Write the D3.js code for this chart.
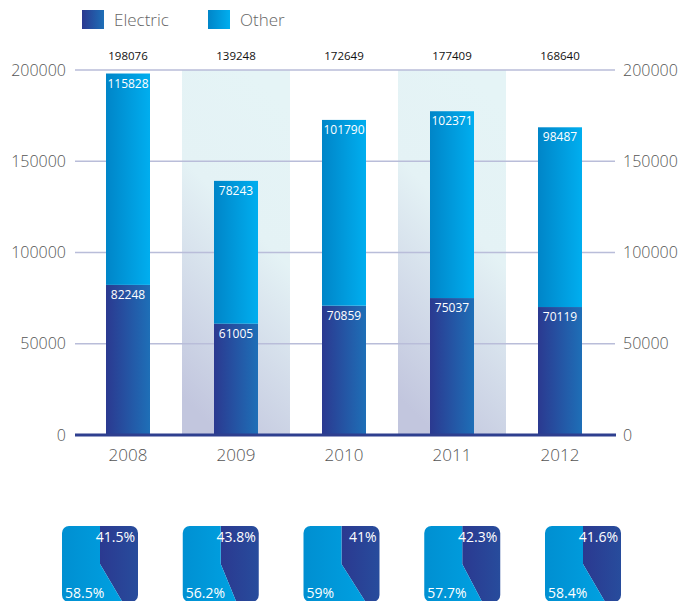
<!DOCTYPE html>
<html>
<head>
<meta charset="utf-8">
<script src="https://cdn.jsdelivr.net/npm/d3@7"></script>
<style>
  body { margin: 0; background: #fff; }
  text { font-family: "Open Sans", "Noto Sans", sans-serif; }
</style>
</head>
<body>
<div id="chart"></div>
<script>
const years = ["2008", "2009", "2010", "2011", "2012"];
const electric = [82248, 61005, 70859, 75037, 70119];
const other = [115828, 78243, 101790, 102371, 98487];
const totals = [198076, 139248, 172649, 177409, 168640];
const electricPct = ["41.5%", "43.8%", "41%", "42.3%", "41.6%"];
const otherPct = ["58.5%", "56.2%", "59%", "57.7%", "58.4%"];
const yTicks = [0, 50000, 100000, 150000, 200000];
const shadedYears = ["2009", "2011"];

const width = 683, height = 601;

let svg = d3.select("#chart").append("svg")
    .attr("width", width)
    .attr("height", height);

let defs = svg.append("defs");

function hGrad(id, c1, c2) {
    let g = defs.append("linearGradient").attr("id", id)
        .attr("x1", "0%").attr("y1", "0%").attr("x2", "100%").attr("y2", "0%");
    g.append("stop").attr("offset", "0%").attr("stop-color", c1);
    g.append("stop").attr("offset", "100%").attr("stop-color", c2);
}
hGrad("gElec", "#2b3990", "#1e6fb7");
hGrad("gOther", "#0085c8", "#00aeef");
hGrad("gElecPie", "#2b3990", "#2361aa");
hGrad("gOtherPie", "#0083c6", "#00a6e6");

let band = defs.append("linearGradient").attr("id", "gBand")
    .attr("x1", "65%").attr("y1", "0%").attr("x2", "35%").attr("y2", "100%");
band.append("stop").attr("offset", "0%").attr("stop-color", "#e5f4f6");
band.append("stop").attr("offset", "40%").attr("stop-color", "#e4f2f5");
band.append("stop").attr("offset", "100%").attr("stop-color", "#c2c6de");

const x = d3.scaleBand().domain(years).range([74, 614]);
const y = d3.scaleLinear().domain([0, 200000]).range([435, 70]);
const barW = 44;

// shaded bands
svg.append("g").selectAll("rect")
    .data(shadedYears)
    .enter().append("rect")
    .attr("x", d => x(d))
    .attr("y", y(200000))
    .attr("width", x.bandwidth())
    .attr("height", y(0) - y(200000))
    .attr("fill", "url(#gBand)");

// grid
svg.append("g").selectAll("line")
    .data(yTicks.filter(d => d > 0))
    .enter().append("line")
    .attr("x1", 75).attr("x2", 615)
    .attr("y1", d => y(d)).attr("y2", d => y(d))
    .style("stroke", "#b9bdd9")
    .style("stroke-width", 1.5);

// axes labels
let leftAxis = d3.axisLeft(y).tickValues(yTicks).tickFormat(d3.format("d")).tickSize(0).tickPadding(9);
let gl = svg.append("g").attr("transform", "translate(75,0)").call(leftAxis);
let rightAxis = d3.axisRight(y).tickValues(yTicks).tickFormat(d3.format("d")).tickSize(0).tickPadding(8);
let gr = svg.append("g").attr("transform", "translate(615,0)").call(rightAxis);
[gl, gr].forEach(g => {
    g.select(".domain").remove();
    g.selectAll("text")
        .style("font-size", "16px")
        .style("font-weight", 300)
        .style("fill", "#555");
});

let xAxis = d3.axisBottom(x).tickSize(0).tickPadding(14);
let gx = svg.append("g").attr("transform", "translate(0,435)").call(xAxis);
gx.select(".domain").remove();
gx.selectAll("text")
    .style("font-size", "17px")
    .style("font-weight", 300)
    .style("fill", "#555");

// bars
const cx = d => x(d) + x.bandwidth() / 2;
let bars = svg.append("g");
bars.selectAll(".elec")
    .data(years)
    .enter().append("rect")
    .attr("class", "elec")
    .attr("x", d => cx(d) - barW / 2)
    .attr("width", barW)
    .attr("y", (d, i) => y(electric[i]))
    .attr("height", (d, i) => y(0) - y(electric[i]))
    .attr("fill", "url(#gElec)");
bars.selectAll(".other")
    .data(years)
    .enter().append("rect")
    .attr("class", "other")
    .attr("x", d => cx(d) - barW / 2)
    .attr("width", barW)
    .attr("y", (d, i) => y(electric[i] + other[i]))
    .attr("height", (d, i) => y(electric[i]) - y(electric[i] + other[i]))
    .attr("fill", "url(#gOther)");

// baseline
svg.append("line")
    .attr("x1", 75).attr("x2", 616)
    .attr("y1", y(0)).attr("y2", y(0))
    .style("stroke", "#2e3f8f")
    .style("stroke-width", 3);

// value labels
let labels = svg.append("g").style("font-size", "12px").attr("text-anchor", "middle");
labels.selectAll(".lo")
    .data(years).enter().append("text")
    .attr("x", d => cx(d))
    .attr("y", (d, i) => y(electric[i] + other[i]) + 14)
    .style("fill", "#fff")
    .text((d, i) => other[i]);
labels.selectAll(".le")
    .data(years).enter().append("text")
    .attr("x", d => cx(d))
    .attr("y", (d, i) => y(electric[i]) + 14)
    .style("fill", "#fff")
    .text((d, i) => electric[i]);
labels.selectAll(".lt")
    .data(years).enter().append("text")
    .attr("x", d => cx(d))
    .attr("y", 60)
    .style("fill", "#111")
    .style("font-size", "11.5px")
    .text((d, i) => totals[i]);

// legend
let legend = svg.append("g");
const legItems = [["Electric", "url(#gElec)", 82], ["Other", "url(#gOther)", 208]];
legItems.forEach(function (it) {
    legend.append("rect")
        .attr("x", it[2]).attr("y", 10)
        .attr("width", 22).attr("height", 19)
        .attr("fill", it[1]);
    legend.append("text")
        .attr("x", it[2] + 32).attr("y", 26)
        .style("font-size", "17px")
        .style("font-weight", 300)
        .style("fill", "#666")
        .text(it[0]);
});

// pie squares
const pieCenters = d3.scalePoint().domain(years).range([100, 583]);
const sq = 76, pieTop = 526;
let pie = d3.pie().sort(null).value(d => d);
years.forEach(function (yr, i) {
    let c = pieCenters(yr);
    let cy = pieTop + sq / 2;
    let clip = defs.append("clipPath").attr("id", "clip" + i);
    clip.append("rect")
        .attr("x", c - sq / 2).attr("y", pieTop)
        .attr("width", sq).attr("height", sq)
        .attr("rx", 7);
    let g = svg.append("g").attr("clip-path", "url(#clip" + i + ")");
    let e = parseFloat(electricPct[i]), o = parseFloat(otherPct[i]);
    let arcs = pie([e, o]);
    let arc = d3.arc().innerRadius(0).outerRadius(80);
    g.append("g").attr("transform", "translate(" + c + "," + cy + ")")
        .selectAll("path")
        .data(arcs).enter().append("path")
        .attr("d", arc)
        .attr("fill", (d, j) => j === 0 ? "url(#gElecPie)" : "url(#gOtherPie)");
    svg.append("text")
        .attr("x", c + sq / 2 - 3).attr("y", pieTop + 16)
        .attr("text-anchor", "end")
        .style("font-size", "14px")
        .style("fill", "#fff")
        .text(electricPct[i]);
    svg.append("text")
        .attr("x", c - sq / 2 + 3).attr("y", pieTop + 72)
        .style("font-size", "14px")
        .style("fill", "#fff")
        .text(otherPct[i]);
});
</script>
</body>
</html>
